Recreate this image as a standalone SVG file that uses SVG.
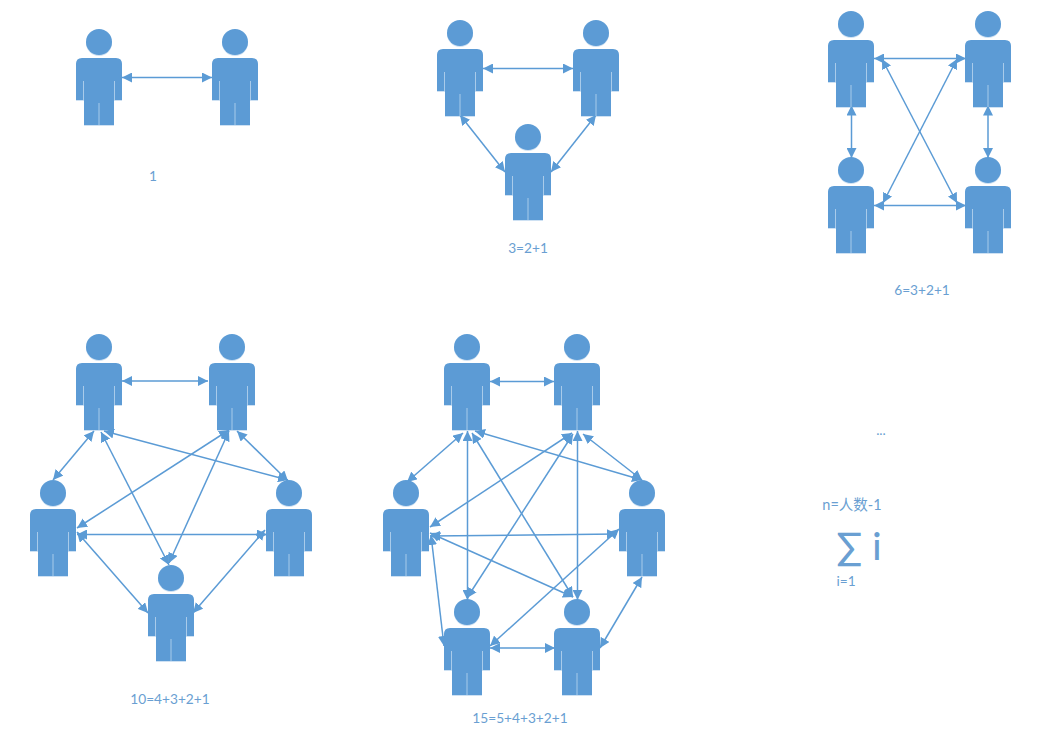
<svg xmlns="http://www.w3.org/2000/svg" width="1045" height="736" viewBox="0 0 1045 736">
<style>
.c{fill:none;stroke:#5B9BD5;stroke-width:1.5;marker-start:url(#a);marker-end:url(#a)}
.p{fill:#5B9BD5;filter:url(#s)}
.g{fill:none;stroke:#A9CBEA;stroke-width:1}
text{fill:#6A9FD2;font-family:Lato,"Noto Sans CJK SC",sans-serif;font-size:13.700px;text-anchor:middle}
</style>
<defs>
<marker id="a" viewBox="0 0 10 10" refX="10" refY="5" markerWidth="10" markerHeight="10" markerUnits="userSpaceOnUse" orient="auto-start-reverse"><path d="M0 0L10 5L0 10Z" fill="#5B9BD5"/></marker>
<filter id="s" x="-15%" y="-15%" width="130%" height="130%"><feGaussianBlur stdDeviation="0.7" in="SourceAlpha" result="b"/><feOffset dy="1" in="b" result="o"/><feFlood flood-color="#5B9BD5" flood-opacity="0.3"/><feComposite in2="o" operator="in"/><feMerge><feMergeNode/><feMergeNode in="SourceGraphic"/></feMerge></filter>
<g id="person"><circle cx="0" cy="0" r="13"/><path d="M-17 16H17Q23 16 23 22V58H15V83H-15V58H-23V22Q-23 16 -17 16Z"/><path class="g" d="M-15.500 39V58M15.500 39V58M0 61V83"/></g>
</defs>
<g id="connectors">
<path class="c" d="M122 77.500H212"/>
<path class="c" d="M483 68.500H573"/>
<path class="c" d="M460 115L505 172"/>
<path class="c" d="M596 115L551 172"/>
<path class="c" d="M874 58.500H966"/>
<path class="c" d="M874 205.500H966"/>
<path class="c" d="M851.500 105.500V158"/>
<path class="c" d="M988 105.500V158"/>
<path class="c" d="M882 59L957 203"/>
<path class="c" d="M957 59L883 203"/>
<path class="c" d="M122 381H208"/>
<path class="c" d="M94 431L53 480"/>
<path class="c" d="M237 431L288 481"/>
<path class="c" d="M104 431L288 480"/>
<path class="c" d="M229 430L77 528"/>
<path class="c" d="M101 432L169 565"/>
<path class="c" d="M229 431L169 563"/>
<path class="c" d="M77 534.500H267"/>
<path class="c" d="M77 532L148 613"/>
<path class="c" d="M265 530L193 613"/>
<path class="c" d="M490 381.500H554"/>
<path class="c" d="M463 433L407 482"/>
<path class="c" d="M475 431L642 480"/>
<path class="c" d="M467.500 431V600"/>
<path class="c" d="M472 433L573 597"/>
<path class="c" d="M572 433L430 527"/>
<path class="c" d="M573 434L467 598"/>
<path class="c" d="M577.500 431V600"/>
<path class="c" d="M583 434L642 480"/>
<path class="c" d="M430 536L617 534"/>
<path class="c" d="M430 533L573 597"/>
<path class="c" d="M431 535L444 646"/>
<path class="c" d="M619 529L490 646"/>
<path class="c" d="M642 577L600 648"/>
<path class="c" d="M490 648H555"/>
</g>
<g id="p1a" class="p"><use href="#person" x="99" y="42"/></g>
<g id="p1b" class="p"><use href="#person" x="235" y="42"/></g>
<g id="p2a" class="p"><use href="#person" x="460" y="33"/></g>
<g id="p2b" class="p"><use href="#person" x="596" y="33"/></g>
<g id="p2c" class="p"><use href="#person" x="528" y="137"/></g>
<g id="p3a" class="p"><use href="#person" x="851" y="24"/></g>
<g id="p3b" class="p"><use href="#person" x="988" y="24"/></g>
<g id="p3c" class="p"><use href="#person" x="851" y="170"/></g>
<g id="p3d" class="p"><use href="#person" x="988" y="170"/></g>
<g id="p4a" class="p"><use href="#person" x="99" y="347"/></g>
<g id="p4b" class="p"><use href="#person" x="232" y="347"/></g>
<g id="p4c" class="p"><use href="#person" x="53" y="493"/></g>
<g id="p4d" class="p"><use href="#person" x="289" y="493"/></g>
<g id="p4e" class="p"><use href="#person" x="171" y="578"/></g>
<g id="p5a" class="p"><use href="#person" x="467" y="347"/></g>
<g id="p5b" class="p"><use href="#person" x="577" y="347"/></g>
<g id="p5c" class="p"><use href="#person" x="406" y="493"/></g>
<g id="p5d" class="p"><use href="#person" x="642" y="493"/></g>
<g id="p5e" class="p"><use href="#person" x="467" y="612"/></g>
<g id="p5f" class="p"><use href="#person" x="577" y="612"/></g>
<g id="labels">
<text x="153" y="181">1</text>
<text x="528" y="253">3=2+1</text>
<text x="922" y="295">6=3+2+1</text>
<text x="170" y="704">10=4+3+2+1</text>
<text x="520" y="723">15=5+4+3+2+1</text>
<text x="881" y="435">...</text>
<text x="852" y="510" style="font-size:14.500px">n=人数-1</text>
<text x="859" y="560" style="font-size:38px;font-weight:500">∑ i</text>
<text x="846" y="586">i=1</text>
</g>
</svg>
